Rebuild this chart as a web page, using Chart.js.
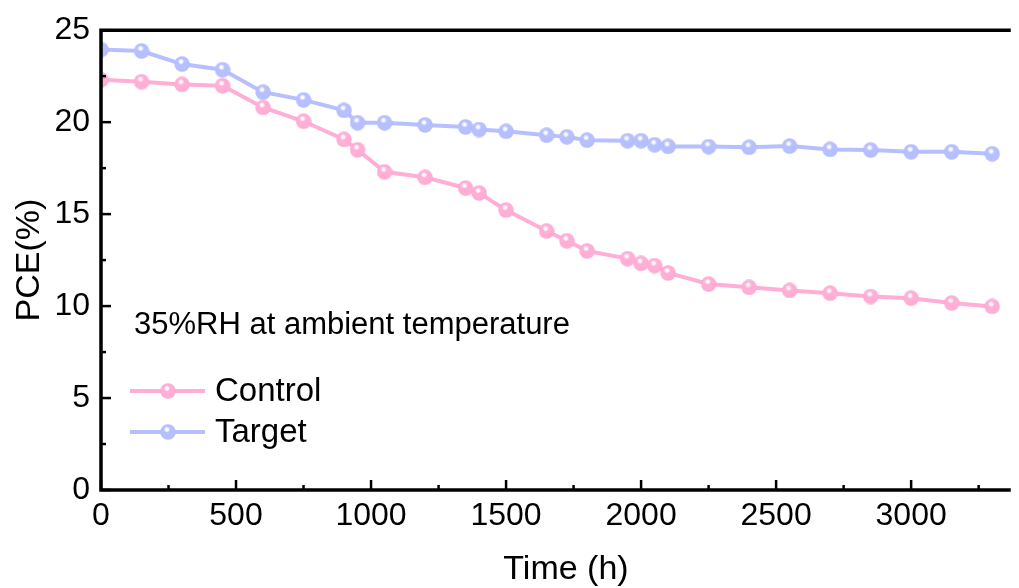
<!DOCTYPE html>
<html><head><meta charset="utf-8">
<script src="https://cdn.jsdelivr.net/npm/chart.js@4.4.0/dist/chart.umd.min.js"></script>
<style>html,body{margin:0;padding:0;background:#fff;overflow:hidden}#wrap{width:1019px;height:588px;position:relative}</style>
</head><body><div id="wrap"><canvas id="c" width="1019" height="588"></canvas></div>
<script>
// ---- data ----
const timeHours = [0,150,300,450,600,750,900,950,1050,1200,1350,1400,1500,1650,1725,1800,1950,2000,2050,2100,2250,2400,2550,2700,2850,3000,3150,3300];
const pceControl = [22.3,22.2,22.05,21.98,20.8,20.05,19.06,18.5,17.3,17.0,16.42,16.15,15.22,14.08,13.55,13.0,12.58,12.32,12.2,11.8,11.2,11.02,10.85,10.7,10.52,10.43,10.17,9.98];
const pceTarget = [23.95,23.87,23.16,22.85,21.63,21.21,20.64,19.97,19.97,19.85,19.74,19.6,19.5,19.29,19.2,19.02,18.99,18.99,18.77,18.68,18.67,18.63,18.7,18.52,18.48,18.39,18.39,18.28];
const seriesNames = ['Control','Target'];
const xTickValues = [0,500,1000,1500,2000,2500,3000];
const yTickValues = [0,5,10,15,20,25];
const xTitle = 'Time (h)';
const yTitle = 'PCE(%)';
const annotationText = '35%RH at ambient temperature';

// ---- styles ----
const FONT = "'Liberation Sans', Arial, sans-serif";
const colors = ['#FFAED6', '#B7C0FF'];
const shade = ['#FBA4CF', '#ADB7FD'];

function sphere(base, edgeCol) {
  const d = 16, c = document.createElement('canvas');
  c.width = d; c.height = d;
  const g = c.getContext('2d');
  const r = d / 2;
  const body = g.createRadialGradient(r - 1, r - 2, 1, r, r, r);
  body.addColorStop(0, base);
  body.addColorStop(0.8, base);
  body.addColorStop(1, edgeCol);
  g.fillStyle = body;
  g.beginPath(); g.arc(r, r, r - 0.3, 0, Math.PI * 2); g.fill();
  const hl = g.createRadialGradient(r - 1, r - 2.5, 0, r - 1, r - 2.5, 3.2);
  hl.addColorStop(0, 'rgba(255,255,255,1)');
  hl.addColorStop(0.45, 'rgba(255,255,255,0.9)');
  hl.addColorStop(1, 'rgba(255,255,255,0)');
  g.fillStyle = hl;
  g.beginPath(); g.arc(r - 1, r - 2.5, 3.2, 0, Math.PI * 2); g.fill();
  return c;
}
const markers = [sphere(colors[0], shade[0]), sphere(colors[1], shade[1])];

const seriesValues = [pceControl, pceTarget];
const datasets = seriesValues.map((vals, i) => ({
  label: seriesNames[i],
  data: timeHours.map((t, k) => ({x: t, y: vals[k]})),
  borderColor: colors[i],
  backgroundColor: colors[i],
  borderWidth: 4,
  pointStyle: markers[i],
  pointRadius: 8,
  tension: 0,
}));

const decor = {
  id: 'decor',
  afterDraw(chart) {
    const {ctx, chartArea: a, scales: {x, y}} = chart;
    ctx.save();
    ctx.strokeStyle = '#000';
    ctx.lineCap = 'butt';
    // inward ticks
    ctx.lineWidth = 2.5;
    const xStep = xTickValues[1] - xTickValues[0];
    const yStep = yTickValues[1] - yTickValues[0];
    xTickValues.forEach(v => {
      const p = x.getPixelForValue(v);
      ctx.beginPath(); ctx.moveTo(p, a.bottom); ctx.lineTo(p, a.bottom - 10); ctx.stroke();
    });
    for (let v = xStep / 2; v < x.max; v += xStep) {
      const p = x.getPixelForValue(v);
      ctx.beginPath(); ctx.moveTo(p, a.bottom); ctx.lineTo(p, a.bottom - 5); ctx.stroke();
    }
    yTickValues.forEach(v => {
      const p = y.getPixelForValue(v);
      ctx.beginPath(); ctx.moveTo(a.left, p); ctx.lineTo(a.left + 10, p); ctx.stroke();
    });
    for (let v = yStep / 2; v < y.max; v += yStep) {
      const p = y.getPixelForValue(v);
      ctx.beginPath(); ctx.moveTo(a.left, p); ctx.lineTo(a.left + 5, p); ctx.stroke();
    }
    // frame
    ctx.lineWidth = 3.5;
    ctx.lineCap = 'square';
    ctx.beginPath();
    ctx.moveTo(a.right + 2, a.top); ctx.lineTo(a.left, a.top); ctx.lineTo(a.left, a.bottom); ctx.lineTo(a.right + 2, a.bottom);
    ctx.stroke();

    // x title
    ctx.fillStyle = '#000';
    ctx.textBaseline = 'middle';
    ctx.textAlign = 'center';
    ctx.font = '34px ' + FONT;
    ctx.fillText(xTitle, 566, 570);

    // annotation
    ctx.textAlign = 'left';
    ctx.font = '31px ' + FONT;
    ctx.fillText(annotationText, a.left + 33, 325);

    // legend
    chart.data.datasets.forEach((ds, i) => {
      const ly = 391 + i * 41;
      ctx.strokeStyle = ds.borderColor;
      ctx.lineWidth = 4;
      ctx.lineCap = 'butt';
      ctx.beginPath(); ctx.moveTo(a.left + 29, ly); ctx.lineTo(a.left + 104, ly); ctx.stroke();
      const m = markers[i];
      ctx.drawImage(m, a.left + 67 - m.width / 2, ly - m.height / 2);
      ctx.fillStyle = '#000';
      ctx.font = '33px ' + FONT;
      ctx.fillText(ds.label, a.left + 114, ly + 1);
    });
    ctx.restore();
  }
};

new Chart(document.getElementById('c'), {
  type: 'line',
  data: {datasets},
  options: {
    responsive: false,
    devicePixelRatio: 1,
    animation: false,
    layout: {padding: {left: 0, top: 26, right: 0, bottom: 0}},
    plugins: {legend: {display: false}, tooltip: {enabled: false}},
    scales: {
      x: {
        type: 'linear', min: 0, max: 3355,
        grid: {display: false, drawTicks: false},
        border: {display: false},
        ticks: {color: '#000', font: {family: FONT, size: 32}, padding: 7, maxRotation: 0, callback: v => String(v)},
        afterBuildTicks: s => { s.ticks = xTickValues.map(v => ({value: v})); },
        afterFit: s => { s.height = 98; },
        title: {display: false}
      },
      y: {
        type: 'linear', min: 0, max: 25,
        grid: {display: false, drawTicks: false},
        border: {display: false},
        ticks: {color: '#000', font: {family: FONT, size: 32}, padding: 11, callback: v => String(v)},
        afterBuildTicks: s => { s.ticks = yTickValues.map(v => ({value: v})); },
        afterFit: s => { s.width = 101; },
        title: {display: true, text: yTitle, color: '#000', font: {family: FONT, size: 34, lineHeight: 1.1}, padding: {top: 11, bottom: 0}}
      }
    }
  },
  plugins: [decor]
});
</script></body></html>
